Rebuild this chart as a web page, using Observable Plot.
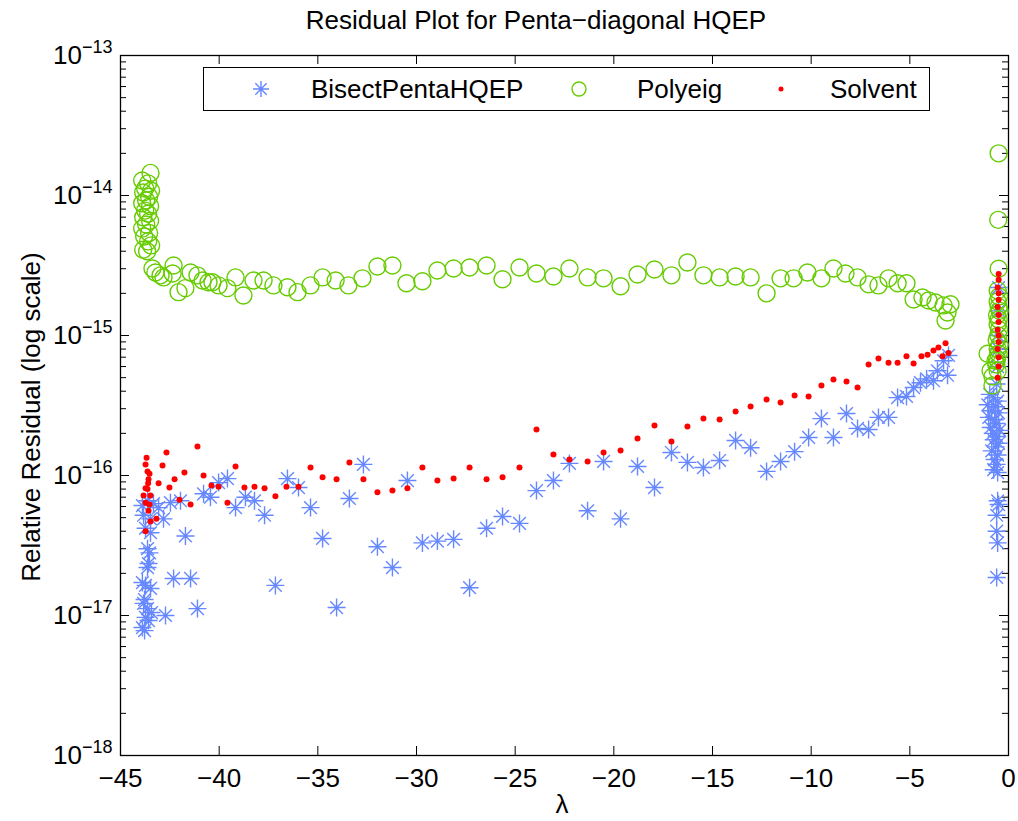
<!DOCTYPE html>
<html>
<head>
<meta charset="utf-8">
<script src="https://cdn.jsdelivr.net/npm/d3@7"></script>
<script src="https://cdn.jsdelivr.net/npm/@observablehq/plot@0.6"></script>
<style>
  body { margin: 0; background: #fff; font-family: "Liberation Sans", Arial, sans-serif; color: #000; }
  #wrap { position: relative; width: 1018px; height: 821px; }
  #title { position: absolute; top: 5px; left: 536px; transform: translateX(-50%); font-size: 26px; line-height: 30px; white-space: nowrap; }
  #xlabel { position: absolute; top: 789px; left: 562px; transform: translateX(-50%); font-size: 26px; line-height: 30px; }
  #ylabel { position: absolute; left: 31px; top: 417px; transform: translate(-50%, -50%) rotate(-90deg); font-size: 26px; line-height: 30px; white-space: nowrap; }
  #legend { position: absolute; left: 203px; top: 67px; width: 727px; height: 44px; border: 1px solid #000; background: #fff; box-sizing: border-box; }
  #legend .item { position: absolute; top: 0; height: 42px; line-height: 42px; font-size: 26px; white-space: nowrap; }
  #legend svg { position: absolute; top: 0; }
</style>
</head>
<body>
<div id="wrap">
  <div id="chart"></div>
  <div id="title">Residual Plot for Penta−diagonal HQEP</div>
  <div id="xlabel">λ</div>
  <div id="ylabel">Relative Residual (log scale)</div>
  <div id="legend"></div>
</div>
<script>
// ---------------- data ----------------
const seriesNames = ["BisectPentaHQEP", "Polyeig", "Solvent"];
const xTicks = [-45, -40, -35, -30, -25, -20, -15, -10, -5, 0];
const yTicks = [1e-18, 1e-17, 1e-16, 1e-15, 1e-14, 1e-13];

const bisectX = [
  -43.89, -43.63, -43.33, -43.83, -43.48, -43.73, -43.48, -43.63, -43.53, -43.58, -43.63,
  -43.89, -43.73, -43.48, -43.78, -43.83, -43.63, -43.43, -43.73, -43.58, -43.89, -43.78,
  -43.07, -42.82, -42.47, -41.96, -41.71, -42.31, -41.45, -41.10, -42.72, -40.79, -40.44,
  -40.03, -39.58, -39.17, -38.67, -38.21, -37.70, -37.15, -36.54, -35.98, -35.37, -34.76,
  -34.05, -33.40, -32.69, -31.98, -31.22, -30.46, -29.70, -28.94, -28.12, -27.31, -26.45,
  -25.64, -24.78, -23.92, -23.06, -22.25, -21.33, -20.52, -19.66, -18.80, -17.94, -17.08,
  -16.27, -15.46, -14.64, -13.83, -13.07, -12.26, -11.55, -10.84, -10.13, -9.48, -8.87,
  -8.21, -7.65, -7.09, -6.59, -6.08, -5.62, -5.17, -4.81, -4.46, -4.15, -3.80, -3.60,
  -3.29, -3.04, -3.09,
  -0.95, -0.75, -0.55, -1.05, -0.65, -0.85, -0.50, -1.00, -0.70, -0.60, -0.90, -0.45,
  -0.80, -0.60, -0.75, -0.50, -0.65, -0.85, -0.55, -0.70, -0.60, -0.75, -0.55,
  -0.55, -0.50, -0.60, -0.60, -0.55, -0.60,
  -0.50, -0.50, -0.55, -0.50, -0.55, -0.60
];
const bisectY = [
  6.1e-17, 6.6e-17, 6.3e-17, 5.2e-17, 4.9e-17, 4.2e-17, 3.9e-17, 3.0e-17, 2.8e-17, 2.35e-17, 2.2e-17,
  1.72e-17, 1.64e-17, 1.56e-17, 1.3e-17, 1.22e-17, 1.12e-17, 1.05e-17, 9.7e-18, 9.2e-18, 8.2e-18, 7.8e-18,
  5.9e-17, 4.9e-17, 6.4e-17, 6.6e-17, 3.7e-17, 1.84e-17, 1.84e-17, 1.12e-17, 1.0e-17, 7.4e-17, 7.0e-17,
  8.9e-17, 9.5e-17, 5.9e-17, 7.0e-17, 6.6e-17, 5.2e-17, 1.64e-17, 9.5e-17, 8.2e-17, 5.9e-17, 3.55e-17,
  1.14e-17, 6.85e-17, 1.2e-16, 3.1e-17, 2.2e-17, 9.2e-17, 3.3e-17, 3.4e-17, 3.5e-17, 1.58e-17, 4.2e-17,
  5.1e-17, 4.55e-17, 7.8e-17, 9.2e-17, 1.22e-16, 5.6e-17, 1.26e-16, 4.9e-17, 1.16e-16, 8.2e-17, 1.46e-16,
  1.24e-16, 1.14e-16, 1.28e-16, 1.78e-16, 1.58e-16, 1.07e-16, 1.26e-16, 1.48e-16, 1.87e-16, 2.55e-16, 1.87e-16,
  2.77e-16, 2.17e-16, 2.13e-16, 2.6e-16, 2.6e-16, 3.6e-16, 3.67e-16, 4.25e-16, 4.6e-16, 4.9e-16, 4.75e-16, 5.6e-16,
  6.6e-16, 7.2e-16, 5.2e-16,
  3.8e-16, 3.6e-16, 3.4e-16, 3.2e-16, 3.1e-16, 2.9e-16, 2.8e-16, 2.6e-16, 2.5e-16, 2.35e-16, 2.2e-16, 2.1e-16,
  2.0e-16, 1.9e-16, 1.8e-16, 1.7e-16, 1.6e-16, 1.5e-16, 1.4e-16, 1.3e-16, 1.2e-16, 1.1e-16, 1.05e-16,
  6.6e-17, 6.2e-17, 5.2e-17, 4.0e-17, 3.3e-17, 1.87e-17,
  2.2e-15, 1.5e-15, 1.0e-15, 8e-16, 6e-16, 4.5e-16
];

const polyX = [
  -43.48, -43.90, -43.60, -43.75, -43.45, -43.85, -43.55, -43.70, -43.90, -43.50, -43.75,
  -43.60, -43.85, -43.50, -43.70, -43.90, -43.55, -43.80, -43.60, -43.45, -43.85, -43.65,
  -43.38, -43.23, -42.97, -42.82, -42.36, -42.31, -42.06, -41.71, -41.45, -41.10, -40.84,
  -40.54, -40.34, -40.03, -39.58, -39.17, -38.77, -38.26, -37.75, -37.25, -36.54, -36.03,
  -35.37, -34.76, -34.10, -33.45, -32.74, -31.98, -31.22, -30.51, -29.70, -28.94, -28.12,
  -27.31, -26.45, -25.64, -24.78, -23.92, -23.06, -22.25, -21.33, -20.52, -19.66, -18.80,
  -17.94, -17.08, -16.27, -15.46, -14.64, -13.83, -13.07, -12.26, -11.55, -10.89, -10.19,
  -9.48, -8.87, -8.26, -7.65, -7.09, -6.59, -6.08, -5.62, -5.17, -4.81, -4.36, -4.05,
  -3.70, -3.29, -2.94, -3.19, -3.09,
  -0.50, -0.52, -0.50, -0.55, -0.48, -0.55, -0.50, -0.45, -0.58, -0.50, -0.55, -0.48,
  -0.52, -0.60, -0.45, -0.55, -0.50, -0.58, -0.62, -0.55,
  -1.06, -0.66, -0.91, -0.81, -0.81
];
const polyY = [
  1.45e-14, 1.28e-14, 1.22e-14, 1.12e-14, 1.08e-14, 1.05e-14, 9.8e-15, 9.2e-15, 8.8e-15, 8.4e-15, 7.8e-15,
  7.4e-15, 7.0e-15, 6.6e-15, 6.2e-15, 5.8e-15, 5.4e-15, 5.1e-15, 4.7e-15, 4.4e-15, 4.1e-15, 4.0e-15,
  3.01e-15, 2.82e-15, 2.69e-15, 2.60e-15, 2.77e-15, 3.16e-15, 2.04e-15, 2.18e-15, 2.82e-15, 2.69e-15, 2.47e-15,
  2.40e-15, 2.40e-15, 2.28e-15, 2.18e-15, 2.60e-15, 1.93e-15, 2.47e-15, 2.47e-15, 2.28e-15, 2.21e-15, 2.04e-15,
  2.28e-15, 2.60e-15, 2.47e-15, 2.28e-15, 2.56e-15, 3.11e-15, 3.16e-15, 2.36e-15, 2.44e-15, 2.91e-15, 3.01e-15,
  3.06e-15, 3.16e-15, 2.52e-15, 3.06e-15, 2.77e-15, 2.64e-15, 3.01e-15, 2.60e-15, 2.56e-15, 2.25e-15, 2.73e-15,
  2.96e-15, 2.69e-15, 3.32e-15, 2.69e-15, 2.60e-15, 2.64e-15, 2.60e-15, 2.00e-15, 2.56e-15, 2.56e-15, 2.82e-15,
  2.56e-15, 3.01e-15, 2.77e-15, 2.60e-15, 2.32e-15, 2.28e-15, 2.56e-15, 2.36e-15, 2.36e-15, 1.81e-15, 1.87e-15, 1.78e-15,
  1.72e-15, 1.64e-15, 1.67e-15, 1.28e-15, 1.46e-15,
  2.0e-14, 6.7e-15, 3.0e-15, 2.1e-15, 1.9e-15, 1.75e-15, 1.6e-15, 1.5e-15, 1.4e-15, 1.3e-15, 1.2e-15, 1.1e-15,
  1.0e-15, 9.3e-16, 8.6e-16, 8.0e-16, 7.4e-16, 6.8e-16, 6.2e-16, 5.6e-16,
  7.4e-16, 6.6e-16, 5.6e-16, 5.1e-16, 4.4e-16
];

const solvX = [
  -43.68, -43.73, -43.63, -43.53, -43.58, -43.60, -43.73, -43.63, -43.83, -43.48, -43.73,
  -43.53, -43.58, -43.48, -43.18, -43.73, -42.67, -42.87, -43.07, -42.26, -42.52, -42.01,
  -41.76, -41.45, -41.10, -40.79, -40.39, -40.03, -39.58, -39.17, -38.72, -38.21, -37.70,
  -37.15, -36.59, -35.98, -35.37, -34.76, -34.05, -33.40, -32.69, -31.98, -31.22, -30.46,
  -29.70, -28.94, -28.12, -27.31, -26.45, -25.64, -24.78, -23.92, -23.06, -22.25, -21.33,
  -20.52, -19.66, -18.80, -17.94, -17.08, -16.27, -15.46, -14.64, -13.83, -13.07, -12.26,
  -11.55, -10.84, -10.13, -9.48, -8.87, -8.21, -7.65, -7.09, -6.59, -6.08, -5.62, -5.17,
  -4.81, -4.41, -4.10, -3.80, -3.55, -3.19, -3.04, -3.34,
  -0.50, -0.50, -0.55, -0.50, -0.50, -0.55, -0.50, -0.50, -0.55, -0.50, -0.50, -0.55,
  -0.50, -0.50, -0.55
];
const solvY = [
  1.34e-16, 1.2e-16, 1.07e-16, 1.03e-16, 9.4e-17, 8.8e-17, 8.1e-17, 8.0e-17, 7.2e-17, 7.2e-17, 6.4e-17,
  6.2e-17, 5.6e-17, 4.7e-17, 4.9e-17, 4.0e-17, 1.46e-16, 1.18e-16, 8.8e-17, 9.4e-17, 8.2e-17, 6.7e-17,
  1.05e-16, 6.2e-17, 1.61e-16, 1.0e-16, 8.5e-17, 8.3e-17, 6.4e-17, 1.16e-16, 8.2e-17, 8.3e-17, 8.1e-17,
  7.1e-17, 8.3e-17, 8.3e-17, 1.14e-16, 9.7e-17, 9.4e-17, 1.24e-16, 9.4e-17, 7.6e-17, 7.8e-17, 8.1e-17,
  1.14e-16, 9.2e-17, 9.5e-17, 1.14e-16, 9.4e-17, 9.7e-17, 1.14e-16, 2.13e-16, 1.41e-16, 1.3e-16, 1.26e-16,
  1.46e-16, 1.51e-16, 1.84e-16, 2.28e-16, 1.75e-16, 2.24e-16, 2.55e-16, 2.51e-16, 2.86e-16, 3.11e-16, 3.49e-16,
  3.32e-16, 3.73e-16, 3.67e-16, 4.4e-16, 4.85e-16, 4.7e-16, 4.25e-16, 6.2e-16, 6.85e-16, 6.4e-16, 6.4e-16, 7.1e-16,
  6.3e-16, 7.1e-16, 7.3e-16, 7.8e-16, 8.2e-16, 8.8e-16, 7.5e-16, 7.1e-16,
  2.75e-15, 2.5e-15, 2.2e-15, 2.0e-15, 1.8e-15, 1.6e-15, 1.4e-15, 1.25e-15, 1.1e-15, 1.0e-15, 9e-16, 8e-16,
  7e-16, 6e-16, 5e-16
];

// ---------------- chart ----------------
const W = 1018, H = 821, mT = 55, mB = 66, mL = 120, mR = 10;
const pw = W - mL - mR, ph = H - mT - mB;
const blue = "#6688ff", green = "#66cc00", red = "#ff0000";

const yMinor = [];
for (let e = -18; e < -13; e++) for (let k = 2; k <= 9; k++) yMinor.push(k * Math.pow(10, e));

const asterisk = {
  draw(ctx, size) {
    const r = Math.sqrt(size / Math.PI), d = r * Math.SQRT1_2;
    ctx.moveTo(-r, 0); ctx.lineTo(r, 0);
    ctx.moveTo(0, -r); ctx.lineTo(0, r);
    ctx.moveTo(-d, -d); ctx.lineTo(d, d);
    ctx.moveTo(-d, d); ctx.lineTo(d, -d);
  }
};

const bisect = bisectX.map((x, i) => ({x, y: bisectY[i]}));
const poly = polyX.map((x, i) => ({x, y: polyY[i]}));
const solv = solvX.map((x, i) => ({x, y: solvY[i]}));

const fmtX = d => d < 0 ? "\u2212" + (-d) : String(d);
const fmtY = d => "10^" + Math.round(Math.log10(d));

const chart = Plot.plot({
  width: W, height: H,
  marginTop: mT, marginBottom: mB, marginLeft: mL, marginRight: mR,
  style: {fontFamily: '"Liberation Sans", Arial, sans-serif', fontSize: "26px", color: "#000", background: "#fff"},
  x: {domain: [-45, 0]},
  y: {type: "log", domain: [1e-18, 1e-13]},
  marks: [
    Plot.axisX(xTicks, {tickSize: 0, tickPadding: 13, tickFormat: fmtX, fontSize: 26, label: null}),
    Plot.axisY(yTicks, {tickSize: 0, tickPadding: 30, tickFormat: fmtY, fontSize: 26, label: null}),
    // inward ticks (box on all four sides)
    Plot.tickX(xTicks, {x: d => d, insetTop: ph - 9, stroke: "#000"}),
    Plot.tickX(xTicks, {x: d => d, insetBottom: ph - 9, stroke: "#000"}),
    Plot.tickY(yTicks, {y: d => d, insetRight: pw - 9, stroke: "#000"}),
    Plot.tickY(yTicks, {y: d => d, insetLeft: pw - 9, stroke: "#000"}),
    Plot.tickY(yMinor, {y: d => d, insetRight: pw - 6, stroke: "#000"}),
    Plot.tickY(yMinor, {y: d => d, insetLeft: pw - 6, stroke: "#000"}),
    Plot.frame({stroke: "#000", strokeWidth: 1.3}),
    Plot.dot(bisect, {x: "x", y: "y", symbol: asterisk, r: 9, stroke: blue, strokeWidth: 1.4, fill: "none"}),
    Plot.dot(poly, {x: "x", y: "y", r: 8.5, stroke: green, strokeWidth: 1.4, fill: "none"}),
    Plot.dot(solv, {x: "x", y: "y", r: 3, fill: red, stroke: "none"})
  ]
});
document.getElementById("chart").appendChild(chart);

// superscript exponents for log tick labels
const svgNS = "http://www.w3.org/2000/svg";
chart.querySelectorAll("text").forEach(t => {
  const m = /^10\^(-?\d+)$/.exec(t.textContent);
  if (!m) return;
  const ex = m[1].replace("-", "\u2212");
  t.textContent = "";
  const base = document.createElementNS(svgNS, "tspan");
  base.textContent = "10";
  const sup = document.createElementNS(svgNS, "tspan");
  sup.textContent = ex;
  sup.setAttribute("dy", "-11");
  sup.setAttribute("font-size", "18");
  t.setAttribute("text-anchor", "end");
  t.setAttribute("x", "22");
  t.appendChild(base);
  t.appendChild(sup);
});

// legend
const legend = document.getElementById("legend");
const items = [
  {name: seriesNames[0], mx: 57, tx: 107, kind: "ast"},
  {name: seriesNames[1], mx: 375, tx: 433, kind: "circ"},
  {name: seriesNames[2], mx: 577, tx: 626, kind: "dot"}
];
items.forEach(it => {
  const s = document.createElementNS(svgNS, "svg");
  s.setAttribute("width", 24); s.setAttribute("height", 42);
  s.style.left = (it.mx - 12) + "px";
  let inner = "";
  if (it.kind === "ast") {
    const r = 8, d = r * Math.SQRT1_2;
    inner = `<path d="M${12-r},21H${12+r}M12,${21-r}V${21+r}M${12-d},${21-d}L${12+d},${21+d}M${12-d},${21+d}L${12+d},${21-d}" stroke="${blue}" stroke-width="1.4" fill="none"/>`;
  } else if (it.kind === "circ") {
    inner = `<circle cx="12" cy="21" r="7" stroke="${green}" stroke-width="1.4" fill="none"/>`;
  } else {
    inner = `<circle cx="12" cy="21" r="2.5" fill="${red}"/>`;
  }
  s.innerHTML = inner;
  legend.appendChild(s);
  const d = document.createElement("div");
  d.className = "item";
  d.style.left = it.tx + "px";
  d.textContent = it.name;
  legend.appendChild(d);
});
</script>
</body>
</html>
